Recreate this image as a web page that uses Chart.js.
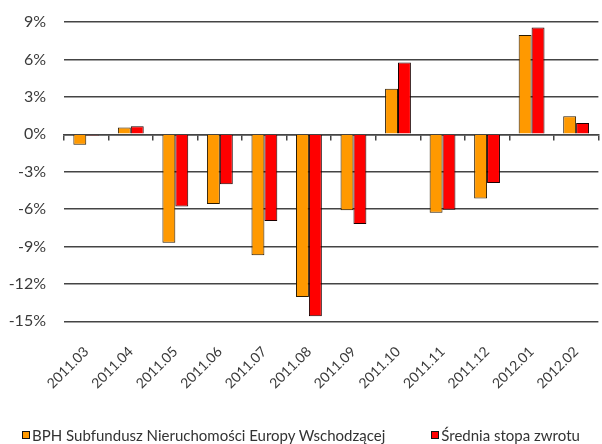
<!DOCTYPE html>
<html>
<head>
<meta charset="utf-8">
<script src="https://cdn.jsdelivr.net/npm/chart.js@4/dist/chart.umd.min.js"></script>
<style>
  html, body { margin: 0; padding: 0; background: #fff; }
  #wrap { position: relative; width: 602px; height: 444px; }
  #legend { position: absolute; left: 0; right: 0; top: 426px; display: flex; justify-content: center; gap: 46px;
            font: 15px Lato, sans-serif; color: #333; white-space: nowrap; }
  #legend .item { display: flex; align-items: center; }
  #legend .box { width: 6px; height: 6px; border: 1px solid #111; margin-right: 2px; }
</style>
</head>
<body>
<div id="wrap"><canvas id="chart"></canvas><div id="legend"></div></div>
<script>
// monthly returns, %
const months = ['2011.03', '2011.04', '2011.05', '2011.06', '2011.07', '2011.08',
                '2011.09', '2011.10', '2011.11', '2011.12', '2012.01', '2012.02'];
const fundReturns = [-0.85, 0.55, -8.7, -5.6, -9.7, -13.05, -6.1, 3.65, -6.3, -5.15, 7.95, 1.45];
const avgReturns  = [-0.1, 0.65, -5.8, -4.0, -6.95, -14.6, -7.2, 5.75, -6.05, -3.9, 8.55, 0.9];
const yTicks = [9, 6, 3, 0, -3, -6, -9, -12, -15];

const FONT = 'Lato';
const TXT = '#3a3a3a';

const chart = new Chart(document.getElementById('chart'), {
  type: 'bar',
  data: {
    labels: months,
    datasets: [
      { label: 'BPH Subfundusz Nieruchomości Europy Wschodzącej', data: fundReturns,
        backgroundColor: '#FF9900', borderColor: '#2a1a00', borderWidth: 1,
        categoryPercentage: 0.58, barPercentage: 1, xAxisID: 'x' },
      { label: 'Średnia stopa zwrotu', data: avgReturns,
        backgroundColor: '#FF0000', borderColor: '#1a0000', borderWidth: 1,
        categoryPercentage: 0.58, barPercentage: 1, xAxisID: 'x' },
    ],
  },
  options: {
    responsive: true,
    maintainAspectRatio: false,
    animation: false,
    layout: { padding: { top: 22, right: 0, left: 0, bottom: 38 } },
    plugins: {
      tooltip: { enabled: false },
      legend: { display: false },
    },
    scales: {
      y: {
        min: -15, max: 9,
        // fixed axis width; the tick padding should not push the plot down
        afterFit: s => { s.width = 64; s.paddingTop = 0; s.paddingBottom = 0; },
        afterBuildTicks: s => { s.ticks = yTicks.map(v => ({ value: v })); },
        grid: { color: '#444', lineWidth: 1.5, drawTicks: false },
        border: { display: false },
        ticks: { padding: 18, font: { family: FONT, size: 16 }, color: TXT, callback: v => v + '%' },
      },
      // zero line with the small category ticks
      x: {
        position: { y: 0 },
        offset: true,
        grid: { offset: true, drawOnChartArea: false, drawTicks: true, tickLength: 5, color: '#444', lineWidth: 1.5 },
        border: { display: true, color: '#444', width: 1.5 },
        ticks: { display: false },
      },
      // month labels at the bottom
      xl: {
        type: 'category',
        position: 'bottom',
        offset: true,
        grid: { display: false },
        border: { display: false },
        ticks: { font: { family: FONT, size: 14 }, color: TXT, minRotation: 45, maxRotation: 45, padding: 14 },
      },
    },
  },
});

// legend as plain html
document.getElementById('legend').innerHTML = chart.data.datasets.map(d =>
  `<div class="item"><span class="box" style="background:${d.backgroundColor}"></span>${d.label}</div>`).join('');
</script>
</body>
</html>
